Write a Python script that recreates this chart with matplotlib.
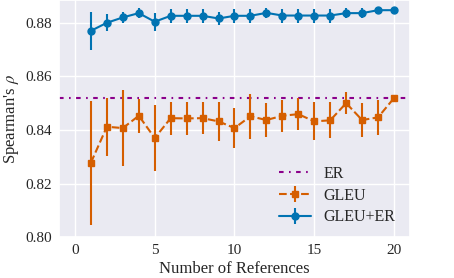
import numpy as np
import seaborn as sns
from matplotlib import pyplot as plt

# number of references used
n_refs = np.arange(1, 21)

# GLEU+ER correlation and spread
gleu_er = [0.8770, 0.8800, 0.8820, 0.8836, 0.8804, 0.8826, 0.8826, 0.8826, 0.8816, 0.8826,
           0.8826, 0.8837, 0.8827, 0.8827, 0.8827, 0.8827, 0.8836, 0.8836, 0.8847, 0.8847]
gleu_er_err = [0.0070, 0.0031, 0.0019, 0.0020, 0.0034, 0.0026, 0.0026, 0.0026, 0.0026, 0.0026,
               0.0026, 0.0020, 0.0026, 0.0026, 0.0026, 0.0026, 0.0020, 0.0020, 0.0002, 0.0002]

# GLEU alone
gleu = [0.8278, 0.8412, 0.8407, 0.8453, 0.8370, 0.8444, 0.8443, 0.8444, 0.8432, 0.8407,
        0.8451, 0.8437, 0.8453, 0.8459, 0.8432, 0.8436, 0.8500, 0.8437, 0.8447, 0.8519]
gleu_err = [0.0231, 0.0108, 0.0143, 0.0063, 0.0123, 0.0062, 0.0063, 0.0060, 0.0072, 0.0074,
            0.0083, 0.0065, 0.0060, 0.0060, 0.0071, 0.0067, 0.0042, 0.0064, 0.0064, 0.0002]

# ER alone (constant, does not depend on references)
er = 0.852

sns.set_theme(style="darkgrid")
plt.rcParams['font.family'] = ['Liberation Serif', 'DejaVu Serif']
plt.rcParams['mathtext.fontset'] = 'stix'

fig = plt.figure(figsize=(4.54, 2.78), dpi=100)
ax = fig.add_axes([0.130, 0.147, 0.773, 0.853])

blue = '#0173b2'
orange = '#d55e00'

er_line = ax.axhline(er, color='#8b008b', linestyle=(0, (2.2, 2.6, 0.8, 2.6)),
                     linewidth=1.5, label='ER')
gl = ax.errorbar(n_refs, gleu, yerr=gleu_err, color=orange, marker='s', markersize=5,
                 linestyle='--', linewidth=1.5, elinewidth=1.5, capsize=0, label='GLEU')
ge = ax.errorbar(n_refs, gleu_er, yerr=gleu_er_err, color=blue, marker='o', markersize=5,
                 linestyle='-', linewidth=1.5, elinewidth=1.5, capsize=0, label='GLEU+ER')

ax.set_xlim(-1, 21)
ax.set_ylim(0.80, 0.8885)
ax.set_xticks([0, 5, 10, 15, 20])
ax.set_yticks([0.80, 0.82, 0.84, 0.86, 0.88])
ax.tick_params(labelsize=11, length=0, pad=5)
ax.set_xlabel('Number of References', fontsize=12, labelpad=3)
ax.set_ylabel("Spearman's $\\rho$", fontsize=12, labelpad=3)

ax.legend(handles=[er_line, gl, ge], loc='lower right', frameon=False, fontsize=11.5,
          bbox_to_anchor=(1.0, -0.01), handlelength=2.0, labelspacing=0.35)

fig.savefig('out.png', dpi=100)
